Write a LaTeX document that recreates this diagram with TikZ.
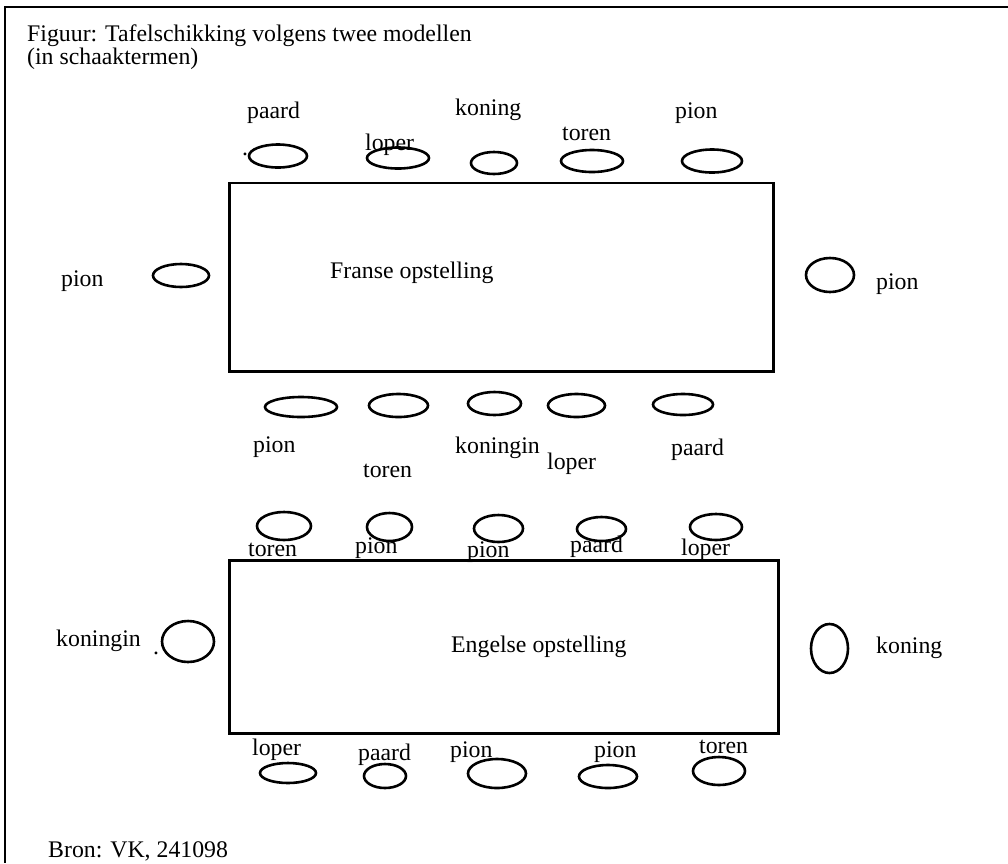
\documentclass[tikz,border=0pt]{standalone}
\usepackage{fontspec}
\setmainfont{Liberation Serif}
\usetikzlibrary{shapes.geometric}

\tikzset{
  seat/.style={draw, ellipse, line width=2.6pt, inner sep=0pt},
  tablebox/.style={draw, rectangle, line width=2.7pt, inner sep=0pt, anchor=north west},
  lbl/.style={anchor=base west, inner sep=0pt, font=\fontsize{23.8}{23}\selectfont},
}

\begin{document}
\begin{tikzpicture}[x=1pt, y=-1pt]
  \useasboundingbox (0,0) rectangle (1008,863);

  % frame: top and left edges
  \draw[line width=2.4pt] (1008,7) -- (5,7) -- (5,863);

  % heading
  \node[lbl] (title1) at (27,41.7) {Figuur: Tafelschikking volgens twee modellen};
  \node[lbl] (title2) at (27,64) {(in schaaktermen)};

  % ---------- French arrangement ----------
  \node[tablebox, minimum width=544pt, minimum height=188.5pt] (ftable) at (228,181.5) {};
  \node[lbl] (ftext) at (330,278) {Franse opstelling};

  % seats above the table
  \node[seat, minimum width=58pt, minimum height=23pt] (f1) at (278,156) {};
  \node[seat, minimum width=62pt, minimum height=21pt] (f2) at (398,158) {};
  \node[seat, minimum width=46pt, minimum height=22pt] (f3) at (494,163) {};
  \node[seat, minimum width=62pt, minimum height=22pt] (f4) at (592,161) {};
  \node[seat, minimum width=60pt, minimum height=23pt] (f5) at (712,161) {};
  \node[lbl] (f1l) at (247,118) {paard};
  \node[lbl] (f1d) at (242,155) {.};
  \node[lbl] (f2l) at (365,150) {loper};
  \node[lbl] (f3l) at (455,115) {koning};
  \node[lbl] (f4l) at (562,140) {toren};
  \node[lbl] (f5l) at (675,118) {pion};

  % seats at the ends
  \node[seat, minimum width=56pt, minimum height=23pt] (fw) at (181,275.5) {};
  \node[lbl] (fwl) at (61,286) {pion};
  \node[seat, minimum width=48pt, minimum height=34pt] (fe) at (830,275) {};
  \node[lbl] (fel) at (876,289) {pion};

  % seats below the table
  \node[seat, minimum width=72pt, minimum height=20pt] (f6) at (301,407) {};
  \node[seat, minimum width=59pt, minimum height=23pt] (f7) at (398.5,405.5) {};
  \node[seat, minimum width=53pt, minimum height=23pt] (f8) at (494.5,403.5) {};
  \node[seat, minimum width=57pt, minimum height=23pt] (f9) at (576.5,405.5) {};
  \node[seat, minimum width=60pt, minimum height=21pt] (f10) at (683,404.5) {};
  \node[lbl] (f6l) at (253,452) {pion};
  \node[lbl] (f7l) at (363,477) {toren};
  \node[lbl] (f8l) at (455,453) {koningin};
  \node[lbl] (f9l) at (547,469) {loper};
  \node[lbl] (f10l) at (671,455) {paard};

  % ---------- English arrangement ----------
  \node[tablebox, minimum width=549pt, minimum height=173pt] (etable) at (228,559) {};
  \node[lbl] (etext) at (451,652) {Engelse opstelling};

  % seats above the table
  \node[seat, minimum width=54pt, minimum height=28pt] (e1) at (284,526) {};
  \node[seat, minimum width=45pt, minimum height=28pt] (e2) at (389.5,527) {};
  \node[seat, minimum width=49pt, minimum height=27pt] (e3) at (498.5,528.5) {};
  \node[seat, minimum width=49pt, minimum height=24pt] (e4) at (601.5,529) {};
  \node[seat, minimum width=52pt, minimum height=26pt] (e5) at (716,527) {};
  \node[lbl] (e1l) at (248,556) {toren};
  \node[lbl] (e2l) at (355,553) {pion};
  \node[lbl] (e3l) at (467,557) {pion};
  \node[lbl] (e4l) at (570,552) {paard};
  \node[lbl] (e5l) at (681,555) {loper};

  % seats at the ends
  \node[seat, minimum width=52pt, minimum height=41pt] (ew) at (188,641.5) {};
  \node[lbl] (ewd) at (153,654) {.};
  \node[lbl] (ewl) at (56,646) {koningin};
  \node[seat, minimum width=37pt, minimum height=49pt] (ee) at (829.5,648.5) {};
  \node[lbl] (eel) at (876,653) {koning};

  % seats below the table
  \node[seat, minimum width=56pt, minimum height=20pt] (e6) at (288,773) {};
  \node[seat, minimum width=42pt, minimum height=24pt] (e7) at (385,776) {};
  \node[seat, minimum width=58pt, minimum height=29pt] (e8) at (497,773.5) {};
  \node[seat, minimum width=58pt, minimum height=23pt] (e9) at (608,776.5) {};
  \node[seat, minimum width=52pt, minimum height=28pt] (e10) at (719,771) {};
  \node[lbl] (e6l) at (252,755) {loper};
  \node[lbl] (e7l) at (358,760) {paard};
  \node[lbl] (e8l) at (450,757) {pion};
  \node[lbl] (e9l) at (594,757) {pion};
  \node[lbl] (e10l) at (699,753) {toren};

  % source line
  \node[lbl] (source) at (48,857) {Bron: VK, 241098};
\end{tikzpicture}
\end{document}
